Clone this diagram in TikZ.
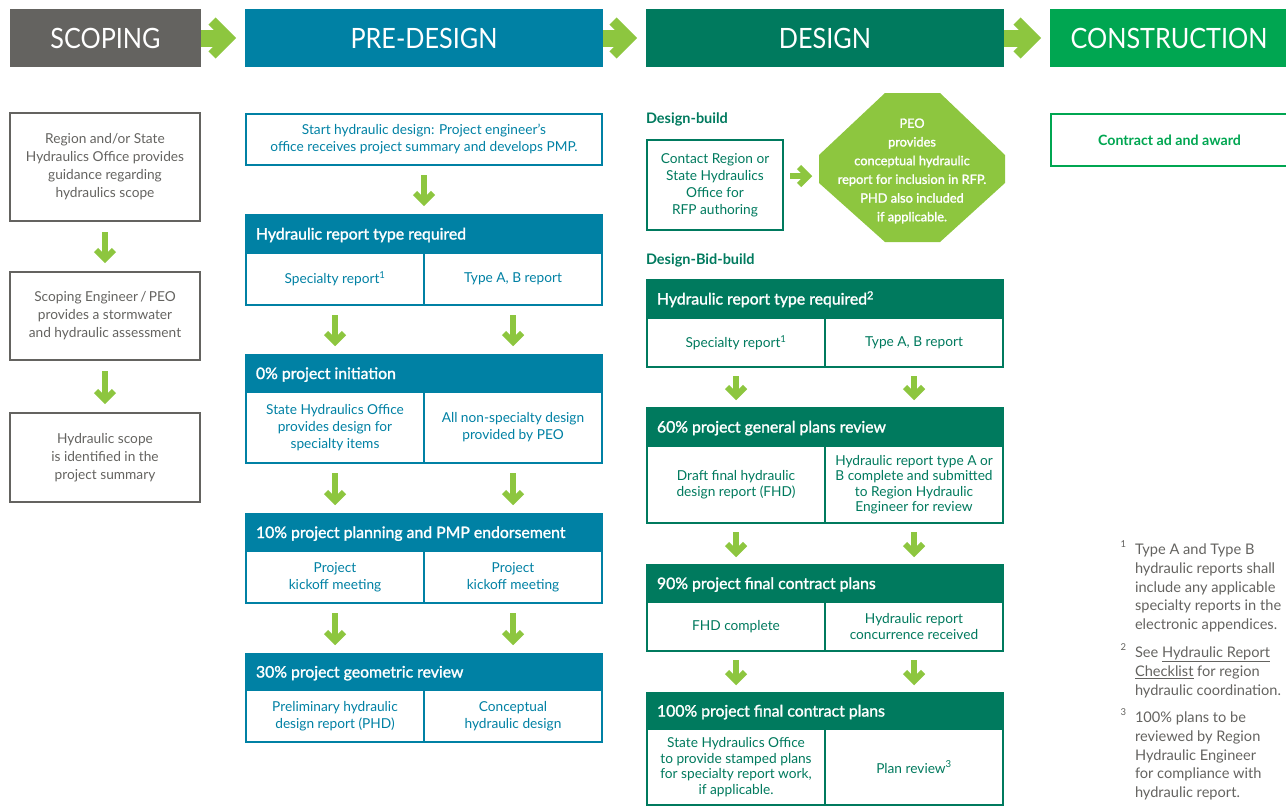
\documentclass[tikz,border=0pt]{standalone}
\usepackage{fontspec}
\setmainfont{Lato}
\newfontfamily\headf[FakeStretch=0.9]{Lato}
\newfontfamily\semib[FakeBold=1.6]{Lato}
\usetikzlibrary{calc}
\definecolor{sgray}{HTML}{646360}
\definecolor{pblue}{HTML}{0081A4}
\definecolor{dgreen}{HTML}{007A5E}
\definecolor{cgreen}{HTML}{00A651}
\definecolor{lgreen}{HTML}{8DC63F}
\newcommand\bodyf{\fontsize{13.7}{17}\selectfont}
\tikzset{
 every node/.style={inner sep=0pt,outer sep=0pt},
 hdr/.style={anchor=north west,minimum height=58,text=white,font=\headf\fontsize{28}{30}\selectfont},
 sbox/.style={anchor=north west,draw=sgray,line width=2.2,minimum width=190,align=center,text=sgray,font=\fontsize{13.7}{18}\selectfont},
 pbox/.style={anchor=north west,draw=pblue,line width=2.2,align=center,text=pblue,font=\bodyf},
 grpbg/.style={anchor=north west,minimum width=358},
 grphead/.style={anchor=base west,text=white,font=\semib\fontsize{15.8}{18}\selectfont},
 cell/.style={fill=white,minimum width=176,align=center,font=\bodyf},
 lbl/.style={anchor=west,text=dgreen,font=\bfseries\fontsize{14.5}{17}\selectfont},
 dbox/.style={anchor=north west,draw=dgreen,line width=2.5,minimum width=136,minimum height=90,align=center,text=dgreen,font=\bodyf},
 octtxt/.style={align=center,text=white,font=\semib\fontsize{12.8}{18.7}\selectfont},
 cbox/.style={anchor=north west,draw=cgreen,line width=2.5,minimum width=237,minimum height=52,text=cgreen,font=\bfseries\fontsize{14.2}{16}\selectfont},
 fn/.style={anchor=north west,align=left,text=sgray,font=\fontsize{14.6}{18.7}\selectfont},
 fnnum/.style={anchor=north east,text=sgray,font=\fontsize{9.5}{10}\selectfont},
 harrs/.style={draw=lgreen,line width=17},
 harrh/.style={draw=lgreen,line width=10,miter limit=10},
 darrs/.style={draw=lgreen,line width=6},
 darrh/.style={draw=lgreen,line width=6,miter limit=10},
}
\newcommand\harrow[2]{%
 \draw[harrs] (#1.east) -- ($(#2.west)+(-21,0)$);
 \draw[harrh] ($(#2.west)+(-33,-17)$) -- ($(#2.west)+(-16,0)$) -- ($(#2.west)+(-33,17)$);
}
\newcommand\darrow[2]{%
 \path #1 coordinate (tmpA) #2 coordinate (tmpB);
 \draw[darrs] (tmpA) -- ($(tmpB)+(0,-7)$);
 \draw[darrh] ($(tmpB)+(-9,-13)$) -- ($(tmpB)+(0,-4)$) -- ($(tmpB)+(9,-13)$);
}
\newcommand\rarrow[2]{%
 \path #1 coordinate (tmpA) #2 coordinate (tmpB);
 \draw[darrs] (tmpA) -- ($(tmpB)+(-7,0)$);
 \draw[darrh] ($(tmpB)+(-13,-9)$) -- ($(tmpB)+(-4,0)$) -- ($(tmpB)+(-13,9)$);
}
\newcommand\mkgroup[9]{%
 \node[grpbg,fill=#6,minimum height={#5-#3}] (#1) at (#2,#3) {};
 \node[grphead] (#1h) at ($(#1.north west)+(11,{(#4-#3)/2+5.5})$) {#7};
 \node[cell,text=#6,minimum height={#5-#4-2},anchor=north west] (#1l) at (#2+2,#4) {#8};
 \node[cell,text=#6,minimum height={#5-#4-2},anchor=north east] (#1r) at (#2+356,#4) {#9};
}
\begin{document}
\begin{tikzpicture}[x=1pt,y=-1pt]
\useasboundingbox (0,0) rectangle (1286,806);
\clip (0,0) rectangle (1286,806);
% phase headers
\node[hdr,fill=sgray,minimum width=191] (hs) at (10,9) {SCOPING};
\node[hdr,fill=pblue,minimum width=358] (hp) at (245,9) {PRE-DESIGN};
\node[hdr,fill=dgreen,minimum width=358] (hd) at (646,9) {DESIGN};
\node[hdr,fill=cgreen,minimum width=238] (hc) at (1050,9) {CONSTRUCTION};
\harrow{hs}{hp}
\harrow{hp}{hd}
\harrow{hd}{hc}
% scoping
\node[sbox,minimum height=108] (s1) at (10,113) {Region and/or State\\Hydraulics Office provides\\guidance regarding\\hydraulics scope};
\node[sbox,minimum height=88] (s2) at (10,272) {Scoping Engineer\,/\,PEO\\provides a stormwater\\and hydraulic assessment};
\node[sbox,minimum height=89] (s3) at (10,413) {Hydraulic scope\\is identified in the\\project summary};
\darrow{($(s1.south)+(0,11)$)}{($(s2.north)+(0,-9)$)}
\darrow{($(s2.south)+(0,11)$)}{($(s3.north)+(0,-9)$)}
% pre-design
\node[pbox,minimum width=356,minimum height=51] (ps) at (246,114) {Start hydraulic design: Project engineer's\\office receives project summary and develops PMP.};
\mkgroup{pa}{245}{214}{254}{306}{pblue}{Hydraulic report type required}{Specialty report\textsuperscript{1}}{Type A, B report}
\mkgroup{pb}{245}{354}{393}{464}{pblue}{0\% project initiation}{State Hydraulics Office\\provides design for\\specialty items}{All non-specialty design\\provided by PEO}
\mkgroup{pc}{245}{513}{552}{604}{pblue}{10\% project planning and PMP endorsement}{Project\\kickoff meeting}{Project\\kickoff meeting}
\mkgroup{pd}{245}{653}{691}{743}{pblue}{30\% project geometric review}{Preliminary hydraulic\\design report (PHD)}{Conceptual\\hydraulic design}
\darrow{($(ps.south)+(0,10)$)}{($(ps.south |- pa.north)+(0,-8)$)}
\darrow{($(pal.south)+(0,11)$)}{($(pal |- pb.north)+(0,-8)$)}
\darrow{($(par.south)+(0,11)$)}{($(par |- pb.north)+(0,-8)$)}
\darrow{($(pbl.south)+(0,11)$)}{($(pbl |- pc.north)+(0,-8)$)}
\darrow{($(pbr.south)+(0,11)$)}{($(pbr |- pc.north)+(0,-8)$)}
\darrow{($(pcl.south)+(0,11)$)}{($(pcl |- pd.north)+(0,-8)$)}
\darrow{($(pcr.south)+(0,11)$)}{($(pcr |- pd.north)+(0,-8)$)}
% design
\node[lbl] (lbuild) at (646,119) {Design-build};
\node[dbox] (dbx) at (647,140) {Contact Region or\\State Hydraulics\\Office for\\RFP authoring};
\fill[lgreen] (885,93) -- (940,93) -- (1005,155) -- (1005,183) -- (940,242) -- (885,242) -- (819,183) -- (819,155) -- cycle;
\node[octtxt] (oct) at (912,171) {PEO\\provides\\conceptual hydraulic\\report for inclusion in RFP.\\PHD also included\\if applicable.};
\coordinate (octL) at (819,176);
\rarrow{($(dbx.east |- octL)+(7,0)$)}{($(octL)+(-7,0)$)}
\node[lbl] (lbid) at (646,260) {Design-Bid-build};
\begin{scope}[cell/.append style={font=\fontsize{13.7}{15.5}\selectfont}]
\mkgroup{da}{646}{279}{319}{368}{dgreen}{Hydraulic report type required\textsuperscript{2}}{Specialty report\textsuperscript{1}}{Type A, B report}
\mkgroup{db}{646}{407}{447}{524}{dgreen}{60\% project general plans review}{Draft final hydraulic\\design report (FHD)}{Hydraulic report type A or\\B complete and submitted\\to Region Hydraulic\\Engineer for review}
\mkgroup{dc}{646}{564}{603}{652}{dgreen}{90\% project final contract plans}{FHD complete}{Hydraulic report\\concurrence received}
\mkgroup{dd}{646}{692}{730}{806}{dgreen}{100\% project final contract plans}{State Hydraulics Office\\to provide stamped plans\\for specialty report work,\\if applicable.}{Plan review\textsuperscript{3}}
\end{scope}
\darrow{($(dal.south)+(0,10)$)}{($(dal |- db.north)+(0,-7)$)}
\darrow{($(dar.south)+(0,10)$)}{($(dar |- db.north)+(0,-7)$)}
\darrow{($(dbl.south)+(0,10)$)}{($(dbl |- dc.north)+(0,-7)$)}
\darrow{($(dbr.south)+(0,10)$)}{($(dbr |- dc.north)+(0,-7)$)}
\darrow{($(dcl.south)+(0,10)$)}{($(dcl |- dd.north)+(0,-7)$)}
\darrow{($(dcr.south)+(0,10)$)}{($(dcr |- dd.north)+(0,-7)$)}
% construction
\node[cbox] (cb) at (1051,114) {Contract ad and award};
% footnotes
\node[fnnum] (f1n) at (1126,541) {1};
\node[fn] (f1) at (1135,544) {Type A and Type B\\hydraulic reports shall\\include any applicable\\specialty reports in the\\electronic appendices.};
\node[fnnum] (f2n) at (1126,644) {2};
\node[fn] (f2) at (1135,647) {See \underline{Hydraulic Report}\\\underline{Checklist} for region\\hydraulic coordination.};
\node[fnnum] (f3n) at (1126,709) {3};
\node[fn] (f3) at (1135,712) {100\% plans to be\\reviewed by Region\\Hydraulic Engineer\\for compliance with\\hydraulic report.};
\end{tikzpicture}
\end{document}
